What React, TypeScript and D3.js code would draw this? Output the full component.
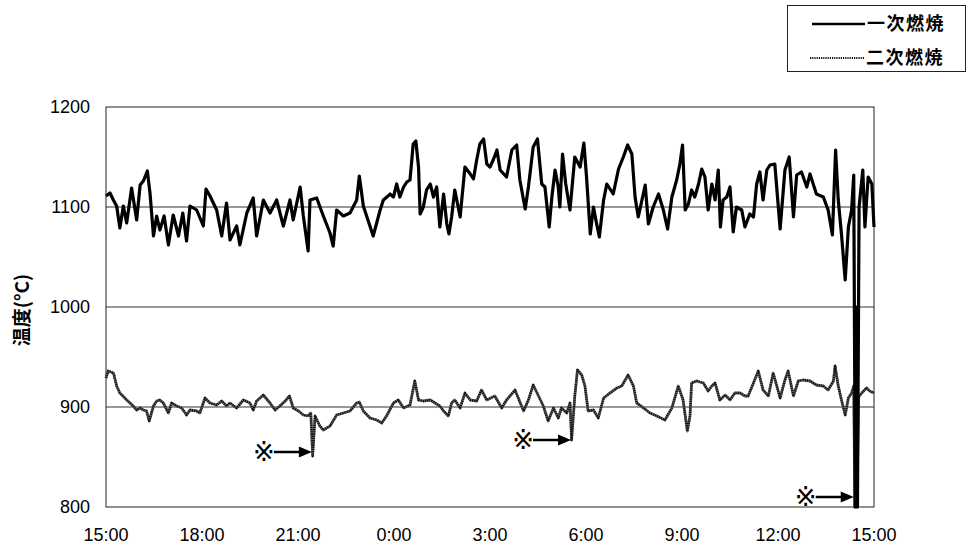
import React from "react";
import * as d3 from "d3";

// minutes elapsed since 15:00
const primaryMinutes = [0,7.5,13.75,20,26,32.5,38.75,48,57.5,64,70,77.5,82.5,89,95,101,109,117,126,136,144,151,157.5,170,182.5,187.5,195,207.5,217,226,232.5,245,251,264,276,282.5,295,307.5,320,332.5,345,351,364,370,379,382.5,395,407.5,420,426,432.5,445,457.5,470,475,482.5,501,514,520,529,
532.5,539,545,551,558,564,570,576,581,586,589,595,601,608,614,620,626,633,639,643,648,654,664,673,683,689,695,701,708,714,720,726,733,739,751,761,770,776,786,792,801,809,817,823,831,836,842,848,851,856,862,870,879,889,896,901,908,914,920,925,933,939,951,961,970,978,986,992,998,1011,1017,1026,1036,1045,1053,1061,1070,1076,
1081,1086,1092,1098,1104,1111,1117,1123,1129,1136,1142,1148,1152,1157,1164,1170,1176,1182,1192,1198,1207,1214,1220,1226,1232,1239,1245,1254,1264,1273,1281,1289,1295,1304,1314,1320,1332,1345,1354,1362,1368,1373,1379,1386,1392,1398,1402,1405,1407,1409,1412,1419,1423,1429,1436,1440];
const primaryTemps = [1111,1114,1107,1101,1079,1101,1084,1119,1087,1122,1126,1136,1114,1071,1091,1077,1091,1062,1092,1071,1094,1066,1101,1097,1081,1118,1111,1097,1071,1104,1067,1081,1062,1094,1109,1071,1107,1094,1107,1081,1107,1087,1120,1091,1056,1107,1109,1091,1074,1061,1097,1091,1094,1107,1131,1101,1071,1097,1107,1111,
1113,1110,1123,1110,1120,1125,1127,1163,1166,1140,1093,1100,1117,1123,1110,1120,1080,1113,1083,1073,1090,1117,1090,1140,1133,1128,1147,1163,1168,1143,1140,1147,1157,1137,1130,1157,1162,1127,1098,1120,1160,1168,1123,1120,1080,1110,1137,1120,1100,1153,1123,1097,1150,1140,1164,1130,1073,1100,1083,1070,1107,1123,1113,1138,1150,1162,1153,1110,1090,1122,1083,1100,1113,1097,1078,1110,1127,1143,
1162,1097,1103,1117,1110,1123,1138,1130,1097,1123,1107,1137,1080,1107,1110,1120,1075,1100,1097,1080,1093,1090,1123,1135,1107,1137,1142,1143,1078,1137,1150,1090,1132,1135,1120,1133,1113,1110,1097,1072,1157,1107,1073,1027,1080,1097,1132,800,1000,800,1100,1137,1080,1130,1123,1080];

const secondaryMinutes = [0,4,14,20,26,39,45,51,57.5,64,70,76,81,89,95,101,107.5,117,123,132.5,142,151,157.5,170,176,185.6,195,207.5,217,226,232.5,245,257.5,270,276,282.5,295,307.5,317,326,336,344,351,361,370,379,384,387.5,392,401,407.5,420,432.5,445,457.5,470,475,482.5,495,507.5,517,526,
539,548,558,570,579,586,595,608,617,626,633,642,648,654,664,673,683,695,704,714,729,742,751,767,773,783,792,801,811,820,829,839,848,854,864,870,873,879,884,892,898,904,914,923,933,945,958,967,979,989,995,1008,1020,1033,1048,1061,1073,
1082,1090,1095,1098,1107.5,1120,1129,1136,1142,1151,1161,1170,1179,1189,1198,1204,1214,1223,1232,1242,1251,1264,1273,1279,1289,1298,1307.5,1320,1332,1345,1354,1364,1367,1373,1379,1386,1392,1398,1402,1404,1406,1408,1411,1417,1426,1432,1440];
const secondaryTemps = [929,936,934,921,914,907,904,901,897,899,897,896,886,901,906,907,904,894,904,901,899,892,897,896,894,909,904,902,906,901,904,899,907,904,897,906,912,904,897,901,906,911,899,896,892,891,894,851,891,881,877,881,892,894,896,904,905,896,889,887,884,891,
904,907,899,902,926,907,906,907,904,901,896,891,904,907,899,914,907,906,917,907,911,899,907,917,909,896,907,922,911,901,886,899,889,899,894,904,867,911,937,932,921,896,897,889,909,914,919,921,932,921,904,899,894,891,887,899,921,
907,876,891,924,926,924,916,921,924,907,912,907,914,914,911,911,924,936,917,911,934,909,927,936,911,926,927,926,922,921,917,926,941,921,907,892,909,914,921,800,905,800,910,914,919,916,914];

const xTickMinutes = [0,180,360,540,720,900,1080,1260,1440];
const xTickLabels = ["15:00","18:00","21:00","0:00","3:00","6:00","9:00","12:00","15:00"];
const yTicks = [800,900,1000,1100,1200];
const gridValues = [900,1000,1100];
const seriesNames = ["一次燃焼","二次燃焼"];
const yAxisTitle = "温度(°C)";
const noteMark = "\u203B";

// annotation arrows (※ →): tip time (minutes) and temperature
const noteMinutes = [386, 872, 1402];
const noteTemps = [855, 867, 810];

const W = 967, H = 553;
const plot = { left: 106, right: 874, top: 107, bottom: 507 };
const numFont = "'Liberation Sans', Arial, sans-serif";
const cjkFont = "'Noto Sans CJK JP', 'Noto Sans CJK SC', sans-serif";
const markFont = "'DejaVu Sans', 'Noto Sans CJK JP', sans-serif";

export default function App() {
  const x = d3.scaleLinear().domain([0, 1440]).range([plot.left, plot.right]);
  const y = d3.scaleLinear().domain([800, 1200]).range([plot.bottom, plot.top]);
  const line = d3.line<[number, number]>().x(d => x(d[0])).y(d => y(d[1]));
  const p1 = line(primaryMinutes.map((m, i) => [m, primaryTemps[i]] as [number, number])) || "";
  const p2 = line(secondaryMinutes.map((m, i) => [m, secondaryTemps[i]] as [number, number])) || "";

  return (
    <div style={{ position: "absolute", left: 0, top: 0 }}>
      <svg width={W} height={H} style={{ display: "block", background: "#fff" }}>
        <rect x={0} y={0} width={W} height={H} fill="#fff" />
        {gridValues.map(v => (
          <line key={v} x1={plot.left} x2={plot.right} y1={y(v)} y2={y(v)} stroke="#333" strokeWidth={1} />
        ))}
        <rect x={plot.left} y={plot.top} width={plot.right - plot.left} height={plot.bottom - plot.top}
          fill="none" stroke="#222" strokeWidth={1} />
        <path d={p2} fill="none" stroke="#666" strokeWidth={2.8} strokeLinejoin="round" />
        <path d={p2} fill="none" stroke="#111" strokeWidth={2.4} strokeDasharray="1.2 1" strokeLinejoin="round" />
        <path d={p1} fill="none" stroke="#000" strokeWidth={3.2} strokeLinejoin="round" />
        {yTicks.map(v => (
          <text key={v} x={90} y={y(v)} dy="0.36em" textAnchor="end" fontFamily={numFont} fontSize={18} fill="#000">{v}</text>
        ))}
        {xTickMinutes.map((m, i) => (
          <text key={i} x={x(m)} y={541} textAnchor="middle" fontFamily={numFont} fontSize={18} fill="#000">{xTickLabels[i]}</text>
        ))}
        <text transform={`translate(29,${(plot.top + plot.bottom) / 2 + 3}) rotate(-90)`} textAnchor="middle"
          fontFamily={cjkFont} fontSize={19} fontWeight={700} fill="#000">{yAxisTitle}</text>
        {noteMinutes.map((m, i) => {
          const tx = x(m), ty = y(noteTemps[i]);
          return (
            <g key={i}>
              <text x={tx - 48} y={ty} dy="0.36em" textAnchor="middle" fontFamily={markFont} fontSize={26} fill="#000">{noteMark}</text>
              <line x1={tx - 38} x2={tx - 10} y1={ty} y2={ty} stroke="#000" strokeWidth={2.5} />
              <path d={`M${tx},${ty} L${tx - 13},${ty - 5.5} L${tx - 13},${ty + 5.5} Z`} fill="#000" />
            </g>
          );
        })}
        <rect x={787.5} y={5.5} width={178} height={66} fill="#fff" stroke="#222" strokeWidth={1} />
        <line x1={812} x2={865} y1={24} y2={24} stroke="#000" strokeWidth={2.6} />
        <text x={867} y={24} dy="0.36em" fontFamily={cjkFont} fontSize={18} fontWeight={700} letterSpacing={1.5} fill="#000">{seriesNames[0]}</text>
        <line x1={810} x2={864} y1={58} y2={58} stroke="#111" strokeWidth={2} strokeDasharray="1.2 1" />
        <text x={866} y={58} dy="0.36em" fontFamily={cjkFont} fontSize={18} fontWeight={700} letterSpacing={1.5} fill="#000">{seriesNames[1]}</text>
      </svg>
    </div>
  );
}
